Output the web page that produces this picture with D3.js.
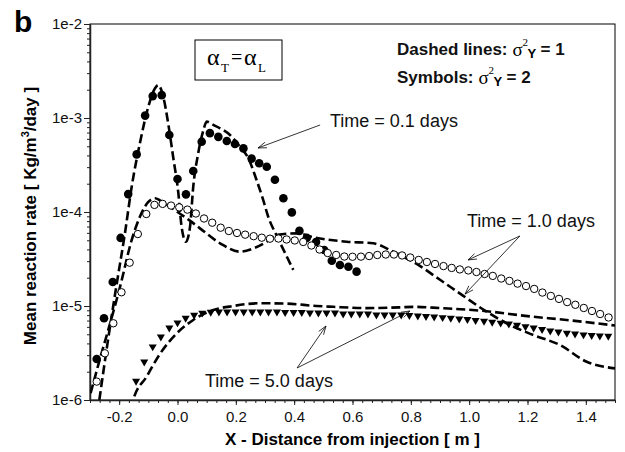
<!DOCTYPE html>
<html><head><meta charset="utf-8">
<script src="https://cdn.jsdelivr.net/npm/d3@7"></script>
<style>body{margin:0;background:#fff} svg{display:block}</style>
</head><body>
<svg id="c" width="625" height="452"></svg>
<script>
// ---------------- data ----------------
const xTicks = [-0.2, 0.0, 0.2, 0.4, 0.6, 0.8, 1.0, 1.2, 1.4];
const xTickLabels = ["-0.2", "0.0", "0.2", "0.4", "0.6", "0.8", "1.0", "1.2", "1.4"];
const yTicks = [1e-6, 1e-5, 1e-4, 1e-3, 1e-2];
const yTickLabels = ["1e-6", "1e-5", "1e-4", "1e-3", "1e-2"];

// Time = 0.1 days, sigma^2 = 2 (filled circles)
const t01SymX = [-0.277,-0.252,-0.222,-0.195,-0.169,-0.140,-0.111,-0.085,-0.054,-0.028,0.000,0.029,0.054,0.083,0.111,0.140,0.169,0.197,0.226,0.254,0.280,0.306,0.334,0.363,0.392,0.418,0.443,0.475,0.503,0.529,0.557,0.586,0.614];
const t01SymY = [2.73e-6,7.4e-6,1.8e-5,5.3e-5,1.55e-4,4.1e-4,1.06e-3,1.71e-3,1.75e-3,6.6e-4,2.24e-4,1.54e-4,2.73e-4,5.6e-4,6.9e-4,6.3e-4,5.7e-4,5.3e-4,4.75e-4,3.7e-4,3.3e-4,3.03e-4,2.2e-4,1.4e-4,9.9e-5,6.3e-5,5.3e-5,4.8e-5,3.94e-5,3.03e-5,2.73e-5,2.62e-5,2.32e-5];

// Time = 1.0 days, sigma^2 = 2 (open circles)
const t10SymX = [-0.277,-0.249,-0.220,-0.192,-0.164,-0.136,-0.107,-0.079,-0.051,-0.022,0.006,0.034,0.063,0.091,0.119,0.148,0.176,0.204,0.232,0.261,0.289,0.317,0.346,0.374,0.402,0.431,0.459,0.487,0.515,0.544,0.572,0.600,0.629,0.657,0.685,0.714,0.742,0.770,0.798,0.827,0.855,0.883,0.912,0.940,0.968,0.997,1.025,1.053,1.081,1.110,1.138,1.166,1.195,1.223,1.251,1.280,1.308,1.336,1.364,1.393,1.421,1.449,1.478];
const t10SymY = [1.57e-6,3.14e-6,6.55e-6,1.40e-5,2.89e-5,5.83e-5,9.52e-5,1.19e-4,1.22e-4,1.17e-4,1.12e-4,1.06e-4,9.64e-5,8.53e-5,7.69e-5,6.81e-5,6.28e-5,5.98e-5,5.74e-5,5.53e-5,5.33e-5,5.20e-5,5.22e-5,5.10e-5,4.98e-5,4.80e-5,4.40e-5,3.99e-5,3.66e-5,3.49e-5,3.36e-5,3.34e-5,3.35e-5,3.40e-5,3.49e-5,3.53e-5,3.53e-5,3.45e-5,3.28e-5,3.09e-5,2.94e-5,2.80e-5,2.66e-5,2.54e-5,2.45e-5,2.39e-5,2.30e-5,2.19e-5,2.09e-5,1.96e-5,1.85e-5,1.73e-5,1.63e-5,1.52e-5,1.39e-5,1.28e-5,1.19e-5,1.10e-5,1.03e-5,9.53e-6,8.85e-6,8.22e-6,7.55e-6];

// Time = 5.0 days, sigma^2 = 2 (filled down triangles)
const t50SymX = [-0.142,-0.114,-0.085,-0.057,-0.028,0.000,0.028,0.057,0.085,0.114,0.142,0.170,0.199,0.227,0.256,0.284,0.312,0.341,0.369,0.398,0.426,0.454,0.483,0.511,0.540,0.568,0.596,0.625,0.653,0.682,0.710,0.738,0.767,0.795,0.824,0.852,0.880,0.909,0.937,0.966,0.994,1.022,1.051,1.079,1.108,1.136,1.164,1.193,1.221,1.250,1.278,1.306,1.335,1.363,1.392,1.420,1.448,1.477];
const t50SymY = [1.59e-6,2.55e-6,3.69e-6,4.71e-6,5.87e-6,6.64e-6,7.45e-6,8.02e-6,8.43e-6,8.6e-6,8.65e-6,8.65e-6,8.65e-6,8.65e-6,8.65e-6,8.65e-6,8.65e-6,8.65e-6,8.55e-6,8.55e-6,8.55e-6,8.45e-6,8.45e-6,8.45e-6,8.45e-6,8.25e-6,8.25e-6,8.25e-6,8.25e-6,8.05e-6,8.05e-6,8.05e-6,8.05e-6,7.95e-6,7.85e-6,7.75e-6,7.65e-6,7.55e-6,7.45e-6,7.3e-6,7.2e-6,7.05e-6,6.9e-6,6.75e-6,6.6e-6,6.45e-6,6.25e-6,6.05e-6,5.85e-6,5.65e-6,5.45e-6,5.3e-6,5.15e-6,5.05e-6,4.95e-6,4.88e-6,4.82e-6,4.78e-6];

// Dashed lines (sigma^2 = 1)
const t01LineX = [-0.268,-0.24,-0.21,-0.18,-0.157,-0.129,-0.100,-0.077,-0.066,-0.049,-0.032,-0.015,0.003,0.014,0.029,0.043,0.054,0.071,0.089,0.100,0.123,0.146,0.180,0.214,0.243,0.271,0.294,0.311,0.340,0.370,0.397];
const t01LineY = [1.0e-6,4.0e-6,1.6e-5,6.0e-5,1.86e-4,5.38e-4,1.32e-3,2.07e-3,2.24e-3,1.69e-3,8.8e-4,3.87e-4,1.58e-4,6.98e-5,4.83e-5,6.98e-5,1.86e-4,4.21e-4,7.45e-4,9.14e-4,8.44e-4,7.77e-4,6.59e-4,4.95e-4,3.73e-4,2.19e-4,1.34e-4,8.91e-5,5.6e-5,3.6e-5,2.42e-5];

const t10LineX = [-0.298,-0.265,-0.231,-0.197,-0.157,-0.129,-0.100,-0.077,-0.060,-0.037,0.000,0.040,0.077,0.146,0.214,0.260,0.306,0.340,0.409,0.466,0.580,0.671,0.729,0.763,0.820,0.900,0.980,1.060,1.140,1.220,1.311,1.403,1.500];
const t10LineY = [1.18e-6,2.8e-6,6.55e-6,1.6e-5,5.04e-5,8.9e-5,1.28e-4,1.4e-4,1.33e-4,1.2e-4,1.0e-4,8.2e-5,6.7e-5,4.65e-5,3.78e-5,4.1e-5,4.83e-5,5.69e-5,5.93e-5,5.38e-5,4.83e-5,4.65e-5,3.94e-5,3.49e-5,2.8e-5,1.9e-5,1.28e-5,8.7e-6,6.28e-6,4.91e-6,3.85e-6,2.55e-6,2.17e-6];

const t50LineX = [-0.160,-0.152,-0.106,-0.060,-0.003,0.054,0.123,0.191,0.283,0.374,0.477,0.534,0.649,0.763,0.809,0.900,1.060,1.200,1.334,1.500];
const t50LineY = [8.0e-7,1.0e-6,1.77e-6,3.1e-6,5.1e-6,7.1e-6,9.06e-6,1.0e-5,1.07e-5,1.06e-5,1.0e-5,9.8e-6,9.5e-6,9.68e-6,9.8e-6,9.5e-6,8.8e-6,7.8e-6,7.1e-6,6.2e-6];

// ---------------- layout ----------------
const L = 90, R = 615, T = 24, B = 400;
const svg = d3.select("#c");
const x = d3.scaleLinear().domain([-0.3, 1.5]).range([L, R]);
const y = d3.scaleLog().domain([1e-6, 1e-2]).range([B, T]);
const SANS = "'Liberation Sans', Arial, sans-serif";
const SERIF = "'Liberation Serif', 'Times New Roman', serif";

svg.append("defs").append("clipPath").attr("id", "clip")
  .append("rect").attr("x", L).attr("y", T).attr("width", R - L).attr("height", B - T);

// frame (top/right)
svg.append("rect").attr("x", L).attr("y", T).attr("width", R - L).attr("height", B - T)
  .attr("fill", "none").attr("stroke", "#000").attr("stroke-width", 1);

// x axis
const xMinor = d3.range(-0.3, 1.5001, 0.2 / 6).map(v => +v.toFixed(4));
const gx = svg.append("g").attr("transform", `translate(0,${B})`);
gx.append("g").call(d3.axisBottom(x).tickValues(xMinor).tickSize(3).tickFormat(""))
  .call(g => g.select(".domain").remove())
  .selectAll("line").attr("stroke", "#222");
const xa = gx.append("g").call(d3.axisBottom(x).tickValues(xTicks).tickSize(5).tickSizeOuter(0)
  .tickFormat((d, i) => xTickLabels[i]));
xa.select(".domain").attr("stroke", "#222").attr("stroke-width", 1.5);
xa.selectAll("line").attr("stroke", "#222").attr("stroke-width", 1);
xa.selectAll("text").attr("font-family", SANS).attr("font-size", 15).attr("fill", "#111").attr("dy", "0.95em");

// y axis
const yMinor = [];
for (let e = -6; e < -2; e++) for (let m = 2; m <= 9; m++) yMinor.push(m * Math.pow(10, e));
const gy = svg.append("g").attr("transform", `translate(${L},0)`);
gy.append("g").call(d3.axisLeft(y).tickValues(yMinor).tickSize(3).tickFormat(""))
  .call(g => g.select(".domain").remove())
  .selectAll("line").attr("stroke", "#222");
const ya = gy.append("g").call(d3.axisLeft(y).tickValues(yTicks).tickSize(6).tickSizeOuter(0)
  .tickFormat((d, i) => yTickLabels[i]));
ya.select(".domain").attr("stroke", "#222").attr("stroke-width", 1.5);
ya.selectAll("line").attr("stroke", "#222");
ya.selectAll("text").attr("font-family", SANS).attr("font-size", 15).attr("fill", "#111").attr("x", -8);

// axis titles
svg.append("text").attr("x", (L + R) / 2).attr("y", 445).attr("text-anchor", "middle")
  .attr("font-family", SANS).attr("font-weight", "bold").attr("font-size", 17)
  .text("X - Distance from injection [ m ]");
const yt = svg.append("text").attr("transform", `translate(36,216) rotate(-90)`)
  .attr("text-anchor", "middle").attr("font-family", SANS).attr("font-weight", "bold").attr("font-size", 17);
yt.append("tspan").text("Mean reaction rate [ Kg/m");
yt.append("tspan").attr("font-size", 11).attr("dy", -7).text("3");
yt.append("tspan").attr("dy", 7).text("/day ]");

// panel label
svg.append("text").attr("x", 14).attr("y", 32).attr("font-family", SANS).attr("font-weight", "bold")
  .attr("font-size", 30).text("b");

// ---------------- data marks ----------------
const plot = svg.append("g").attr("clip-path", "url(#clip)");
const line = d3.line().x(d => x(d[0])).y(d => y(d[1])).curve(d3.curveMonotoneX);
[[t01LineX, t01LineY], [t10LineX, t10LineY], [t50LineX, t50LineY]].forEach(([xs, ys]) => {
  plot.append("path").datum(xs.map((v, i) => [v, ys[i]])).attr("d", line)
    .attr("fill", "none").attr("stroke", "#000").attr("stroke-width", 2.6)
    .attr("stroke-dasharray", "9,4");
});

plot.append("g").selectAll("circle").data(t01SymX.map((v, i) => [v, t01SymY[i]])).join("circle")
  .attr("cx", d => x(d[0])).attr("cy", d => y(d[1])).attr("r", 4.3).attr("fill", "#000");
plot.append("g").selectAll("circle").data(t10SymX.map((v, i) => [v, t10SymY[i]])).join("circle")
  .attr("cx", d => x(d[0])).attr("cy", d => y(d[1])).attr("r", 3.7).attr("fill", "#fff")
  .attr("stroke", "#000").attr("stroke-width", 1);
const tri = d3.symbol().type(d3.symbolTriangle).size(28);
plot.append("g").selectAll("path").data(t50SymX.map((v, i) => [v, t50SymY[i]])).join("path")
  .attr("d", tri).attr("transform", d => `translate(${x(d[0])},${y(d[1])}) rotate(180)`)
  .attr("fill", "#000");

// ---------------- annotations ----------------
function arrow(x0, y0, x1, y1) {
  const X0 = x(x0), Y0 = y(y0), X1 = x(x1), Y1 = y(y1);
  const a = Math.atan2(Y1 - Y0, X1 - X0), len = 9, sp = 0.33;
  svg.append("line").attr("x1", X0).attr("y1", Y0).attr("x2", X1).attr("y2", Y1)
    .attr("stroke", "#000").attr("stroke-width", 0.8);
  svg.append("path").attr("d",
    `M${X1 - len * Math.cos(a - sp)},${Y1 - len * Math.sin(a - sp)}L${X1},${Y1}L${X1 - len * Math.cos(a + sp)},${Y1 - len * Math.sin(a + sp)}`)
    .attr("fill", "none").attr("stroke", "#000").attr("stroke-width", 0.8);
}
arrow(0.489, 8.43e-4, 0.276, 4.8e-4);
arrow(1.174, 5.56e-5, 0.996, 3.09e-5);
arrow(1.174, 5.56e-5, 0.986, 1.34e-5);
arrow(0.41, 2.19e-6, 0.509, 6.12e-6);
arrow(0.41, 2.19e-6, 0.797, 8.85e-6);

function label(px, py, s) {
  svg.append("text").attr("x", px).attr("y", py).attr("font-family", SANS).attr("font-size", 18)
    .attr("fill", "#111").text(s);
}
label(330, 127, "Time = 0.1 days");
label(467, 227, "Time = 1.0 days");
label(205, 387, "Time = 5.0 days");

// alpha box
svg.append("rect").attr("x", 195).attr("y", 40).attr("width", 87).attr("height", 40)
  .attr("fill", "#fff").attr("stroke", "#000").attr("stroke-width", 1);
function serif(px, py, size, s) {
  svg.append("text").attr("x", px).attr("y", py).attr("font-family", SERIF).attr("font-size", size).text(s);
}
serif(207, 65, 24, "α");
serif(221, 72, 13, "T");
serif(231, 64, 20, "=");
serif(244, 65, 24, "α");
serif(258, 72, 13, "L");

// sigma legend text
function sigmaLine(px, py, pre, post) {
  const t = svg.append("text").attr("x", px).attr("y", py).attr("font-family", SANS)
    .attr("font-weight", "bold").attr("font-size", 17).attr("fill", "#111").text(pre);
  const w = t.node().getComputedTextLength();
  const sx = px + w + 5;
  svg.append("text").attr("x", sx).attr("y", py + 1).attr("font-family", SERIF).attr("font-size", 19).text("σ");
  svg.append("text").attr("x", sx + 10).attr("y", py - 9).attr("font-family", SERIF).attr("font-size", 11).text("2");
  svg.append("text").attr("x", sx + 15).attr("y", py + 3).attr("font-family", SANS).attr("font-weight", "bold")
    .attr("font-size", 13).text("Y");
  svg.append("text").attr("x", sx + 28).attr("y", py).attr("font-family", SANS).attr("font-weight", "bold")
    .attr("font-size", 17).attr("fill", "#111").text(post);
}
sigmaLine(397, 55, "Dashed lines:", "= 1");
sigmaLine(397, 83, "Symbols:", "= 2");
</script>
</body></html>
